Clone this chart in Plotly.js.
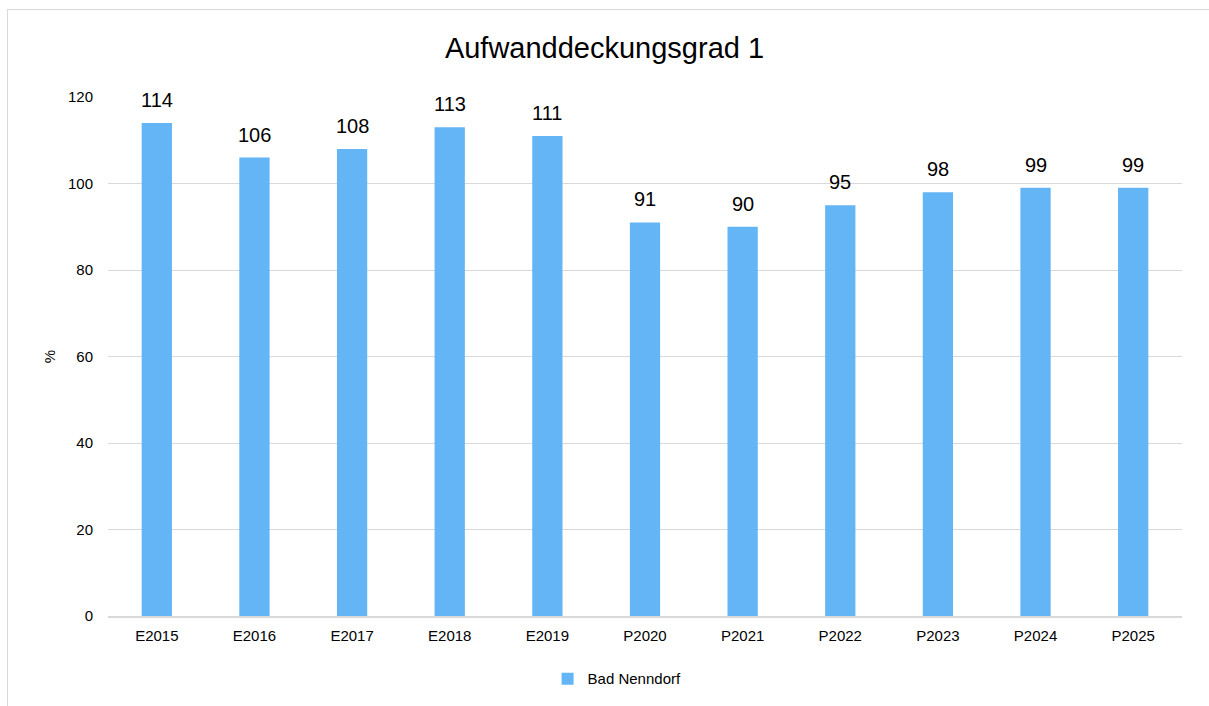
<!DOCTYPE html>
<html>
<head>
<meta charset="utf-8">
<script src="https://cdn.plot.ly/plotly-3.0.1.min.js"></script>
<style>
html,body{margin:0;padding:0;background:#fff;}
#chart{width:1209px;height:706px;}
#frame{position:absolute;left:7px;top:9px;width:1300px;height:800px;border:1.5px solid #d9d9d9;pointer-events:none;}
</style>
</head>
<body>
<div id="chart"></div>
<div id="frame"></div>
<script>
const categories = ["E2015","E2016","E2017","E2018","E2019","P2020","P2021","P2022","P2023","P2024","P2025"];
const values = [114,106,108,113,111,91,90,95,98,99,99];
const seriesName = "Bad Nenndorf";
const yTicks = [0,20,40,60,80,100,120];

const FONT = "Liberation Sans, Arial, sans-serif";

const trace = {
  type: "bar",
  x: categories,
  y: values,
  name: seriesName,
  marker: {color: "#63b5f5"},
  hoverinfo: "none"
};

const labels = categories.map((c, i) => ({
  x: c, y: values[i], xref: "x", yref: "y",
  text: String(values[i]), showarrow: false,
  yanchor: "bottom", yshift: 10,
  font: {family: FONT, size: 20, color: "#000"}
}));

const layout = {
  width: 1209, height: 706,
  margin: {l: 108, r: 27, t: 97, b: 89},
  paper_bgcolor: "rgba(0,0,0,0)",
  plot_bgcolor: "#fff",
  font: {family: FONT, size: 15, color: "#000"},
  title: {text: "Aufwanddeckungsgrad 1", x: 0.5, xanchor: "center", y: 0.932, yanchor: "middle",
          font: {size: 29, color: "#000"}},
  bargap: 0.69,
  showlegend: true,
  legend: {orientation: "h", x: 0.474, xanchor: "center", y: -0.119, yanchor: "middle",
           font: {size: 15}, itemwidth: 30},
  annotations: labels,
  xaxis: {
    type: "category",
    showgrid: false,
    showline: true, linecolor: "#d9d9d9", linewidth: 2,
    ticks: "", tickfont: {size: 15},
    ticklabelstandoff: 5,
    fixedrange: true
  },
  yaxis: {
    range: [0, 120],
    tickvals: yTicks,
    ticktext: yTicks.map(String),
    showgrid: true, gridcolor: "#d9d9d9", gridwidth: 1,
    zeroline: false,
    showline: false,
    ticks: "",
    ticklabelstandoff: 14,
    tickfont: {size: 15},
    title: {text: "%", font: {size: 15}, standoff: 8},
    fixedrange: true
  }
};

Plotly.newPlot("chart", [trace], layout, {displayModeBar: false, staticPlot: true});
</script>
</body>
</html>
